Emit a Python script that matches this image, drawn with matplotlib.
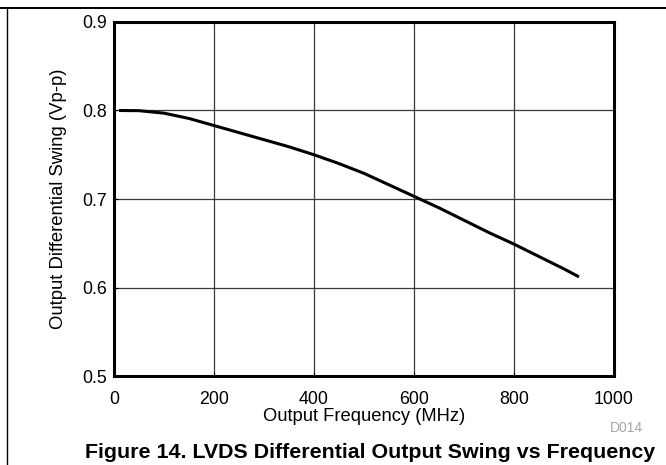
import matplotlib
matplotlib.use("Agg")
import matplotlib.pyplot as plt
from matplotlib.lines import Line2D

plt.rcParams['font.family'] = ['Liberation Sans', 'DejaVu Sans']

freq_mhz = [10, 50, 100, 150, 200, 250, 300, 350, 400, 450, 500, 550, 600,
            650, 700, 750, 800, 850, 900, 930]
swing_vpp = [0.800, 0.7998, 0.797, 0.791, 0.783, 0.775, 0.767, 0.759, 0.750,
             0.740, 0.729, 0.716, 0.703, 0.690, 0.676, 0.662, 0.649, 0.635,
             0.621, 0.612]
x_ticks = [0, 200, 400, 600, 800, 1000]
y_ticks = [0.5, 0.6, 0.7, 0.8, 0.9]
y_tick_labels = ['0.5', '0.6', '0.7', '0.8', '0.9']

fig = plt.figure(figsize=(6.66, 4.65), dpi=100)
W, H = 666, 465
ax = fig.add_axes([114 / W, 1 - 376 / H, 500 / W, 354 / H])

ax.plot(freq_mhz, swing_vpp, color='black', lw=2.2, solid_capstyle='butt')
ax.set_xlim(0, 1000)
ax.set_ylim(0.5, 0.9)
ax.set_xticks(x_ticks)
ax.set_xticklabels([str(v) for v in x_ticks])
ax.set_yticks(y_ticks)
ax.set_yticklabels(y_tick_labels)
ax.grid(True, color='#3a3a3a', lw=0.9)
ax.set_axisbelow(True)
for s in ax.spines.values():
    s.set_linewidth(2.2)
    s.set_color('black')
ax.tick_params(axis='x', direction='in', length=3, labelsize=12.8, pad=11)
ax.tick_params(axis='y', direction='in', length=3, labelsize=12.8, pad=5)

ax.set_xlabel('Output Frequency (MHz)', fontsize=13.2, labelpad=0)
ax.set_ylabel('Output Differential Swing (Vp-p)', fontsize=13.3, labelpad=11)

fig.text(626 / W, 1 - 427.5 / H, 'D014', fontsize=10, color='#a8a8a8',
         ha='center', va='center')
fig.text(370.5 / W, 1 - 452 / H,
         'Figure 14. LVDS Differential Output Swing vs Frequency',
         fontsize=15.4, fontweight='bold', ha='center', va='center')

fig.add_artist(Line2D([0, 1], [1 - 8 / H, 1 - 8 / H], color='black', lw=1.4,
                      transform=fig.transFigure))
fig.add_artist(Line2D([7 / W, 7 / W], [0, 1 - 8 / H], color='black', lw=1.0,
                      transform=fig.transFigure))

fig.savefig('out.png', dpi=100)
